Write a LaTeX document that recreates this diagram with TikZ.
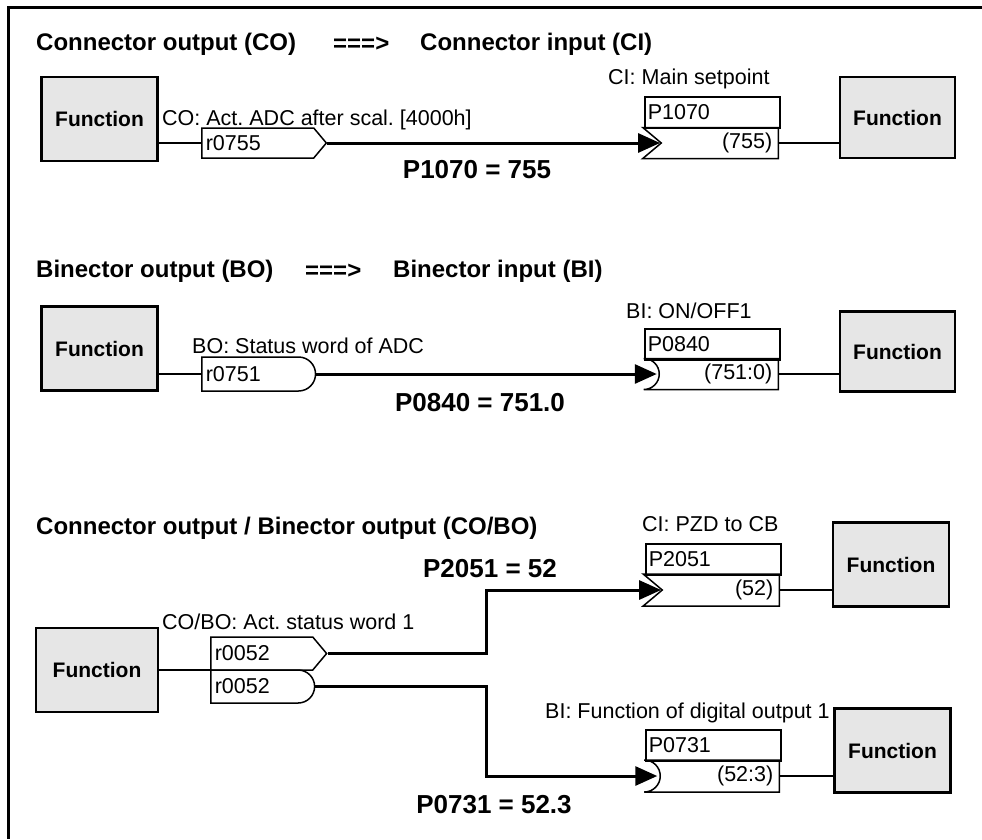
\documentclass[tikz,border=0pt]{standalone}
\usepackage{fontspec}
\setmainfont{Liberation Sans}
\usepackage{xcolor}
\usetikzlibrary{shapes.symbols,shapes.misc,positioning,arrows.meta}
\definecolor{funcgray}{RGB}{230, 230, 230}
\newcommand{\tagfont}{\fontsize{21.5}{25}\selectfont}

\begin{document}
\frenchspacing
\begin{tikzpicture}[
    x=1pt, y=-1pt,
    every node/.style={inner sep=0pt},
    func/.style={rectangle, draw, line width=2.5pt, fill=funcgray, minimum width=116pt, minimum height=84pt, font=\bfseries\fontsize{21}{25}\selectfont},
    heading/.style={anchor=west, font=\bfseries\fontsize{24}{28}\selectfont},
    txt/.style={anchor=west, font=\tagfont},
    valtext/.style={font=\bfseries\fontsize{26}{30}\selectfont},
    conout/.style={signal, signal to=east, signal pointer angle=100, draw, line width=1.5pt, minimum height=30pt, text width=104pt, inner xsep=4pt, align=left, anchor=west, font=\tagfont},
    binout/.style={rounded rectangle, rounded rectangle west arc=none, draw, line width=1.5pt, minimum height=34pt, text width=104pt, inner xsep=4pt, align=left, anchor=west, font=\tagfont},
    parbox/.style={rectangle, draw, line width=1.5pt, minimum height=31pt, text width=129pt, inner xsep=3pt, align=left, anchor=north west, font=\tagfont},
    conin/.style={signal, signal from=west, signal to=nowhere, signal pointer angle=80, draw, line width=1.5pt, minimum height=31pt, text width=105pt, inner xsep=6pt, align=right, anchor=east, font=\tagfont},
    binin/.style={rounded rectangle, rounded rectangle west arc=concave, rounded rectangle east arc=none, draw, line width=1.5pt, minimum height=31pt, text width=107pt, inner xsep=6pt, align=right, anchor=east, font=\tagfont},
    arrow/.style={line width=3pt, -{Triangle[length=22pt,width=19pt]}},
    binarrow/.style={arrow, shorten >=-13pt},
    link/.style={line width=2.5pt},
    thinlink/.style={line width=1.5pt}
]
\useasboundingbox (0,0) rectangle (982,839);

% Frame
\draw[line width=3pt] (982,7) -- (8,7) -- (8,839);

% Connector output ===> connector input
\node[heading] (head1_out) at (36,44) {Connector output (CO)};
\node[heading] (head1_sym) at (333,44) {===>};
\node[heading] (head1_in) at (420,44) {Connector input (CI)};

\node[func] (func_src1) at (99.5,119) {Function};
\node[conout] (co_out1) at (201,143) {r0755};
\node[txt] (co_name1) at (162,120) {CO: Act. ADC after scal. [4000h]};
\node[parbox] (ci_par1) at (644,96) {P1070};
\node[conin] (ci_val1) at (779,143) {(755)};
\node[txt] (ci_name1) at (608,79) {CI: Main setpoint};
\node[func, minimum width=115pt, minimum height=81pt] (func_dst1) at (897.5,117.5) {Function};
\node[valtext] (val1) at (477,170) {P1070 = 755};

\draw[link] (co_out1.west -| func_src1.east) -- (co_out1.west);
\draw[arrow] (co_out1.east) -- (ci_val1.west);
\draw[thinlink] (ci_val1.east) -- (ci_val1.east -| func_dst1.west);

% Binector output ===> binector input
\node[heading] (head2_out) at (36,271) {Binector output (BO)};
\node[heading] (head2_sym) at (305,271) {===>};
\node[heading] (head2_in) at (393,271) {Binector input (BI)};

\node[func] (func_src2) at (99.5,348.5) {Function};
\node[binout] (bo_out2) at (201,374) {r0751};
\node[txt] (bo_name2) at (192,346) {BO: Status word of ADC};
\node[parbox] (bi_par2) at (644,328) {P0840};
\node[binin] (bi_val2) at (779,374) {(751:0)};
\node[txt] (bi_name2) at (626,311) {BI: ON/OFF1};
\node[func, minimum width=115pt, minimum height=80pt] (func_dst2) at (897.5,351.5) {Function};
\node[valtext] (val2) at (480,403) {P0840 = 751.0};

\draw[link] (bo_out2.west -| func_src2.east) -- (bo_out2.west);
\draw[binarrow] (bo_out2.east) -- (bi_val2.west);
\draw[thinlink] (bi_val2.east) -- (bi_val2.east -| func_dst2.west);

% Connector / binector output
\node[heading] (head3) at (36,528) {Connector output / Binector output (CO/BO)};

\node[func, minimum width=122pt] (func_src3) at (97,670) {Function};
\coordinate (split3) at (210,670);
\node[conout, minimum height=33pt, text width=94pt] (co_out3) at (210,653.5) {r0052};
\node[binout, minimum height=33pt, text width=94pt] (bo_out3) at (210,686.5) {r0052};
\node[txt] (cobo_name3) at (162,622) {CO/BO: Act. status word 1};
\coordinate (bend3) at (486,0);

\node[parbox] (ci_par3) at (645,543) {P2051};
\node[conin, minimum height=32pt] (ci_val3) at (780,590) {(52)};
\node[txt] (ci_name3) at (642,524) {CI: PZD to CB};
\node[func] (func_dst3a) at (891,564.5) {Function};
\node[valtext] (val3a) at (490,569) {P2051 = 52};

\node[parbox] (bi_par3) at (645,729) {P0731};
\node[binin, minimum height=32pt] (bi_val3) at (780,776) {(52:3)};
\node[txt] (bi_name3) at (545,713) {BI: Function of digital output 1};
\node[func] (func_dst3b) at (892.5,750.5) {Function};
\node[valtext] (val3b) at (494,805) {P0731 = 52.3};

\draw[link] (func_src3.east) -- (split3);
\draw[arrow] (co_out3.east) -- (co_out3.east -| bend3) |- (ci_val3.west);
\draw[binarrow] (bo_out3.east) -- (bo_out3.east -| bend3) |- (bi_val3.west);
\draw[thinlink] (ci_val3.east) -- (ci_val3.east -| func_dst3a.west);
\draw[thinlink] (bi_val3.east) -- (bi_val3.east -| func_dst3b.west);

\end{tikzpicture}
\end{document}
